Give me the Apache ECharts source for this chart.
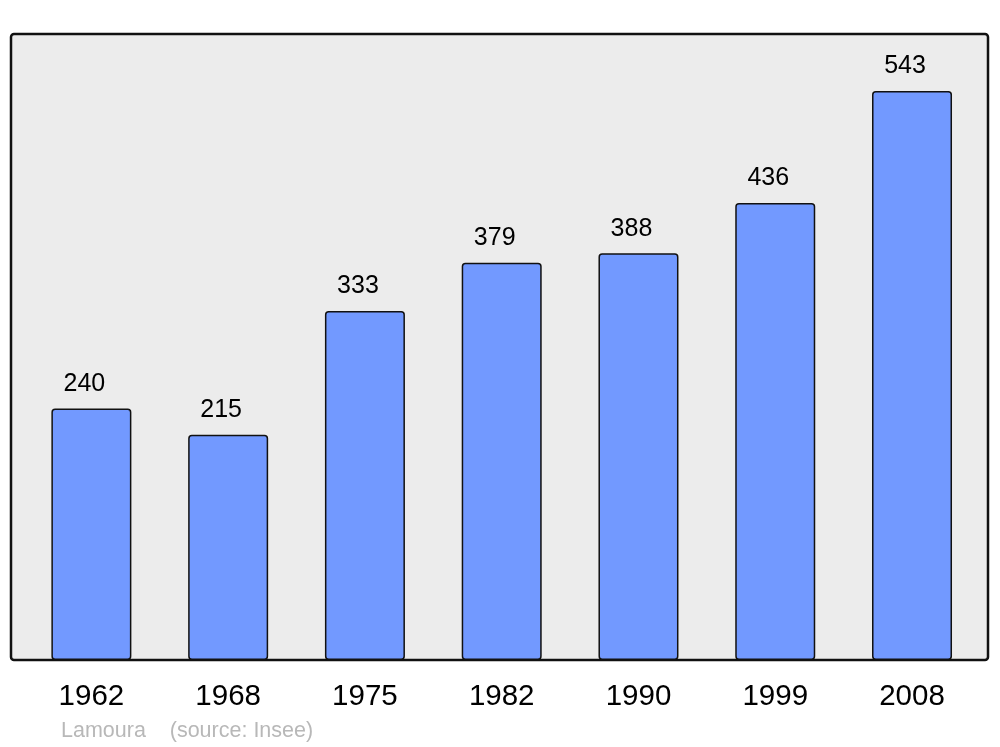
<!DOCTYPE html>
<html>
<head>
<meta charset="utf-8">
<script src="https://cdn.jsdelivr.net/npm/echarts@6/dist/echarts.min.js"></script>
<style>
html,body{margin:0;padding:0;background:#fff;}
#c{width:1000px;height:747px;}
</style>
</head>
<body>
<div id="c"></div>
<script>
const years = ['1962','1968','1975','1982','1990','1999','2008'];
const population = [240, 215, 333, 379, 388, 436, 543];
const sourceText = 'Lamoura    (source: Insee)';

const chart = echarts.init(document.getElementById('c'), null, {renderer:'canvas'});
chart.setOption({
  animation: false,
  backgroundColor: '#ffffff',
  textStyle: {fontFamily: 'Liberation Sans, Arial, sans-serif'},
  grid: {left: 23, right: 19.6, top: 34, bottom: 87},
  graphic: [
    {type:'rect', z:-10, shape:{x:11, y:34, width:977, height:626, r:3},
     style:{fill:'#ececec', stroke:'#111', lineWidth:2.5}},
    {type:'text', left:61, top:720, z:10,
     style:{text:sourceText, fill:'#b8b8b8', font:'21.5px "Liberation Sans", Arial, sans-serif'}}
  ],
  xAxis: {
    type:'category', data: years,
    axisLine:{show:false}, axisTick:{show:false},
    axisLabel:{fontSize:29.5, color:'#000', margin:22, fontFamily:'Liberation Sans'}
  },
  yAxis: {
    type:'value', min:0, max:597.3,
    show:false, splitLine:{show:false}
  },
  series: [{
    type:'bar', data: population, barWidth:80,
    itemStyle:{color:'#7299ff', borderColor:'#111', borderWidth:1.5, borderRadius:3},
    label:{show:true, position:'top', distance:12, offset:[-7,0], fontSize:25, color:'#000', fontFamily:'Liberation Sans'}
  }]
});
</script>
</body>
</html>
